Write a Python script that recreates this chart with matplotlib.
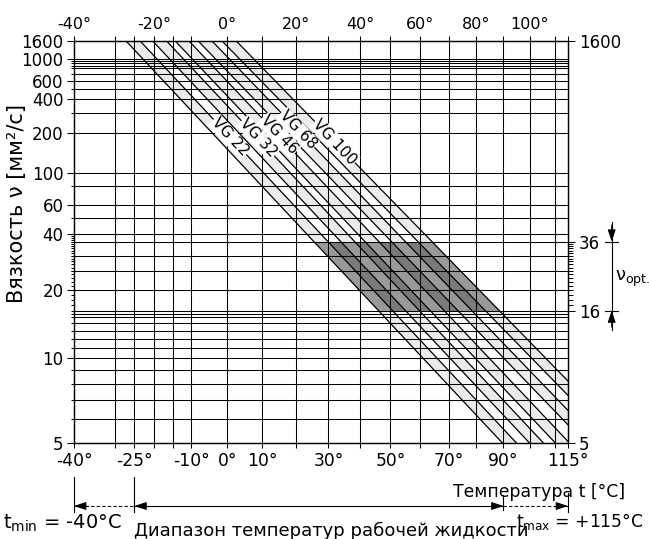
import numpy as np
import matplotlib
matplotlib.use('Agg')
import matplotlib.pyplot as plt
from matplotlib import transforms
from matplotlib.patches import Polygon, Rectangle
from matplotlib.ticker import NullFormatter

plt.rcParams['font.family'] = ['DejaVu Sans']
plt.rcParams['mathtext.fontset'] = 'dejavusans'

# viscosity grades and their band edges (temperature where edge meets 1600 and 5 mm2/s)
grades = ['VG 22', 'VG 32', 'VG 46', 'VG 68', 'VG 100']
t1600_lo = [-27.2, -20.35, -14.4, -8.2, -1.6]
t1600_hi = [-23.6, -16.7, -10.7, -4.4, 2.4]
t5_lo = [89.7, 100.0, 110.1, 122.2, 134.2]
t5_hi = [95.0, 105.4, 115.7, 127.9, 140.1]
# label positions (on the upper edge of each band)
label_t = [0.7, 8.85, 14.9, 20.6, 32.0]
label_nu = [187, 184, 194, 214, 170]

nu_opt = (16, 36)

t_grid = [-30, -25, -20, -15, -10, 0, 10, 20, 30, 40, 50, 60, 70, 80, 90, 100, 110]
t_bottom = [-40, -25, -10, 0, 10, 30, 50, 70, 90, 115]
t_top = [-40, -20, 0, 20, 40, 60, 80, 100]
nu_grid = [1000, 950, 900, 850, 800, 700, 600, 500, 400, 300, 200, 100, 80, 60, 50,
           40, 36, 30, 25, 20, 16, 15.5, 15, 14, 13, 12, 11, 10, 9, 8, 7, 6]
nu_left = [1600, 1000, 600, 400, 200, 100, 60, 40, 20, 10, 5]
nu_right = [1600, 36, 16, 5]


def t_fwd(t):
    return np.log10(np.asarray(t, float) + 273.15)


def t_inv(u):
    return 10 ** np.asarray(u, float) - 273.15


def nu_fwd(v):
    v = np.clip(np.asarray(v, float), 0.25, None)
    return np.log10(np.log10(v + 0.8))


def nu_inv(w):
    return 10 ** (10 ** np.asarray(w, float)) - 0.8


W, H = 649, 539
fig = plt.figure(figsize=(W / 100, H / 100), dpi=100)
ax = fig.add_axes([74 / W, 1 - 443.3 / H, 494 / W, 402.6 / H])
ax.set_xscale('function', functions=(t_fwd, t_inv))
ax.set_yscale('function', functions=(nu_fwd, nu_inv))
ax.set_xlim(-40, 115)
ax.set_ylim(5, 1600)

# light bands
for i in range(len(grades)):
    pts = [(t1600_lo[i], 1600), (t1600_hi[i], 1600), (t5_hi[i], 5), (t5_lo[i], 5)]
    ax.add_patch(Polygon(pts, closed=True, facecolor='#ebebeb', edgecolor='none', zorder=1))

# optimum viscosity zone
clip = Rectangle((-40, nu_opt[0]), 155, nu_opt[1] - nu_opt[0], transform=ax.transData)
zone = Polygon([(t1600_lo[0], 1600), (t1600_hi[-1], 1600), (t5_hi[-1], 5), (t5_lo[0], 5)],
               closed=True, facecolor='#7a7a7a', edgecolor='none', zorder=1.2)
ax.add_patch(zone)
zone.set_clip_path(clip)
for i in range(len(grades)):
    pts = [(t1600_lo[i], 1600), (t1600_hi[i], 1600), (t5_hi[i], 5), (t5_lo[i], 5)]
    p = Polygon(pts, closed=True, facecolor='#999999', edgecolor='none', zorder=1.3)
    ax.add_patch(p)
    p.set_clip_path(clip)

# grid
for t in t_grid:
    ax.axvline(t, color='k', lw=0.75, zorder=2)
for v in nu_grid:
    ax.axhline(v, color='k', lw=0.75, zorder=2)

# band edges
for i in range(len(grades)):
    ax.plot([t1600_lo[i], t5_lo[i]], [1600, 5], color='k', lw=0.9, zorder=3)
    ax.plot([t1600_hi[i], t5_hi[i]], [1600, 5], color='k', lw=0.9, zorder=3)
    ax.text(label_t[i], label_nu[i], grades[i], rotation=-46.5, rotation_mode='anchor',
            ha='center', va='center', fontsize=11, zorder=4,
            bbox=dict(facecolor='white', edgecolor='none', pad=0.6))

for s in ax.spines.values():
    s.set_linewidth(0.9)

# bottom axis
ax.set_xticks([-40] + t_grid + [115])
ax.set_xticklabels([f'{t}°' if t in t_bottom else '' for t in [-40] + t_grid + [115]])
ax.tick_params(axis='x', length=3.6, width=0.75, pad=3, labelsize=12.3)

# left axis
ax.set_yticks(nu_left)
ax.set_yticklabels([str(v) for v in nu_left])
ax.set_yticks([v for v in nu_grid if v not in nu_left] + list(range(17, 40)), minor=True)
ax.yaxis.set_minor_formatter(NullFormatter())
ax.tick_params(axis='y', which='major', length=5, width=0.75, pad=2.5, labelsize=12)
ax.tick_params(axis='y', which='minor', length=2.5, width=0.7)
fig.text(17 / W, 1 - 204 / H, 'Вязкость ν [мм²/с]', fontsize=15, rotation=90,
         ha='center', va='center')

# top axis
ax_top = ax.twiny()
ax_top.set_xscale('function', functions=(t_fwd, t_inv))
ax_top.set_xlim(-40, 115)
ax_top.set_xticks([-40] + t_grid + [115])
ax_top.set_xticklabels([f'{t}°' if t in t_top else '' for t in [-40] + t_grid + [115]])
ax_top.tick_params(axis='x', length=3.6, width=0.75, pad=2.5, labelsize=11.5)

# right axis
ax_r = ax.twinx()
ax_r.set_yscale('function', functions=(nu_fwd, nu_inv))
ax_r.set_ylim(5, 1600)
ax_r.set_yticks(nu_right)
ax_r.set_yticklabels([str(v) for v in nu_right])
ax_r.set_yticks(list(range(17, 36)), minor=True)
ax_r.yaxis.set_minor_formatter(NullFormatter())
ax_r.tick_params(axis='y', which='major', length=5, width=0.75, pad=3, labelsize=12)
ax_r.tick_params(axis='y', which='minor', length=3.5, width=0.7)

# optimum range marker on the right
bl = transforms.blended_transform_factory(fig.transFigure, ax.transData)
xm = 611.7 / W
ax.plot([xm, xm], [47, 13.1], color='k', lw=0.8, transform=bl, clip_on=False)
for v in nu_opt:
    ax.plot([605 / W, 618 / W], [v, v], color='k', lw=0.8, transform=bl, clip_on=False)
hp = dict(arrowstyle='-|>,head_length=0.6,head_width=0.2', color='k', lw=0.8,
          shrinkA=0, shrinkB=0, mutation_scale=12)
ax.annotate('', xy=(xm, 36), xytext=(xm, 45), xycoords=bl, textcoords=bl, arrowprops=hp)
ax.annotate('', xy=(xm, 16), xytext=(xm, 13.5), xycoords=bl, textcoords=bl, arrowprops=hp)
fig.text(615 / W, 1 - 281 / H, 'ν$_{\\mathrm{opt.}}$', fontsize=13, va='baseline')

# temperature range arrows below
bb = transforms.blended_transform_factory(ax.transData, fig.transFigure)
ya = 1 - 506 / H
for t, y0, y1 in [(-40, 477, 512), (-25, 477, 512), (90, 495, 510), (115, 493, 512)]:
    ax.plot([t, t], [1 - y0 / H, 1 - y1 / H], color='k', lw=0.8, transform=bb, clip_on=False)
ax.plot([-40, -25], [ya, ya], color='k', lw=0.8, ls=(0, (3, 2)), transform=bb, clip_on=False)
ax.plot([-25, 90], [ya, ya], color='k', lw=0.8, transform=bb, clip_on=False)
ax.plot([90, 115], [ya, ya], color='k', lw=0.8, ls=(0, (3, 2)), transform=bb, clip_on=False)
for tip, tail in [(-40, -37), (-25, -22), (90, 87), (115, 113)]:
    ax.annotate('', xy=(tip, ya), xytext=(tail, ya), xycoords=bb, textcoords=bb, arrowprops=hp)

fig.text(625 / W, 1 - 497 / H, 'Температура t [°C]', fontsize=12.4, ha='right', va='baseline')
fig.text(3 / W, 1 - 529 / H, 't$_{\\mathrm{min}}$ = -40°C', fontsize=14, ha='left', va='baseline')
fig.text(134 / W, 1 - 536 / H, 'Диапазон температур рабочей жидкости', fontsize=13,
         ha='left', va='baseline')
fig.text(643 / W, 1 - 527 / H, 't$_{\\mathrm{max}}$ = +115°C', fontsize=12.3, ha='right', va='baseline')

fig.savefig('out.png', dpi=100)
